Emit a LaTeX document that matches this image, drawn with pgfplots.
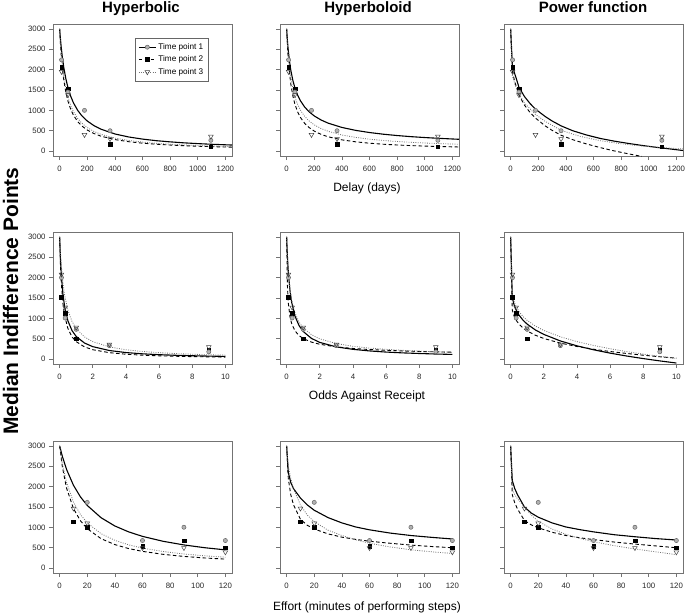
\documentclass[border=0pt]{standalone}
\usepackage{fontspec}
\setmainfont{Liberation Sans}
\usepackage{pgfplots}
\pgfplotsset{compat=1.18}
\pgfplotsset{
 panel/.style={scale only axis, width=179pt, height=132pt, anchor=north west,
   ymin=-120, ymax=3120, ytick={0,500,...,3000},
   axis line style={draw=black!55, line width=0.6pt},
   every tick/.style={draw=black!55, line width=0.6pt},
   tick align=outside, tick pos=left, major tick length=4pt,
   tick label style={font=\fontsize{7.8}{9}\selectfont, text=black!85},
   xticklabel style={yshift=-2.5pt},
   /pgf/number format/assume math mode=true,
   /pgf/number format/1000 sep={},
   clip=true},
 nolab/.style={yticklabels={}},
 delay/.style={xmin=-48, xmax=1248, xtick={0,200,...,1200}},
 odds/.style={xmin=-0.4, xmax=10.4, xtick={0,2,...,10}},
 effort/.style={xmin=-4.8, xmax=124.8, xtick={0,20,...,120}},
 tpone/.style={black, line width=1.1pt, forget plot},
 tptwo/.style={black, line width=0.9pt, dash pattern=on 3.5pt off 2.5pt, forget plot},
 tpthree/.style={black!55, line width=0.8pt, dash pattern=on 0.9pt off 1.4pt, forget plot},
 mone/.style={only marks, forget plot, mark=*, mark size=2.1pt, mark options={solid, draw=black!60, fill=black!30, line width=0.5pt}},
 mtwo/.style={only marks, forget plot, mark=square*, mark size=1.8pt, mark options={solid, draw=black, fill=black}},
 mthree/.style={only marks, forget plot, mark=triangle, mark size=2.7pt, mark options={solid, draw=black!75, fill=white, rotate=180, line width=0.5pt}},
}
\begin{document}
\begin{tikzpicture}
\path[use as bounding box] (0,0) rectangle (685pt,-615pt);
% titles and labels
\node[anchor=base, font=\bfseries\fontsize{15}{17}\selectfont] at (141pt,-12.7pt) {Hyperbolic};
\node[anchor=base, font=\bfseries\fontsize{15}{17}\selectfont] at (368pt,-12.7pt) {Hyperboloid};
\node[anchor=base, font=\bfseries\fontsize{15}{17}\selectfont] at (593pt,-12.7pt) {Power function};
\node[anchor=base, font=\fontsize{12}{14}\selectfont] at (367pt,-191.3pt) {Delay (days)};
\node[anchor=base, font=\fontsize{12}{14}\selectfont] at (367pt,-399.3pt) {Odds Against Receipt};
\node[anchor=base, font=\fontsize{12}{14}\selectfont] at (367pt,-610.6pt) {Effort (minutes of performing steps)};
\node[rotate=90, anchor=base, font=\bfseries\fontsize{21}{23}\selectfont] at (18pt,-301pt) {Median Indifference Points};

% ---------------- Row 1: Delay ----------------
\begin{axis}[panel, delay, at={(53pt,-24pt)},
  legend style={at={(0.458,0.896)}, anchor=north west, draw=black!60, line width=0.5pt,
    font=\fontsize{8.2}{9.5}\selectfont, inner xsep=3pt, inner ysep=3.5pt, row sep=1pt},
  legend cell align=left]
\addlegendimage{black, line width=1.1pt, mark=*, mark size=2.1pt, mark options={solid, draw=black!60, fill=black!30, line width=0.5pt}}
\addlegendimage{black, line width=0.9pt, dash pattern=on 3.5pt off 2.5pt, mark=square*, mark size=1.8pt, mark options={solid, fill=black}}
\addlegendimage{black!55, line width=0.8pt, dash pattern=on 0.9pt off 1.4pt, mark=triangle, mark size=2.7pt, mark options={solid, draw=black!75, fill=white, rotate=180, line width=0.5pt}}
\legend{Time point 1, Time point 2, Time point 3}
\addplot[tpone] coordinates {(0,3000)(5,2787)(10,2602)(20,2297)(30,2056)(45,1777)(60,1564)(80,1349)(100,1186)(130,1004)(160,870)(200,739)(250,622)(300,537)(400,421)(500,347)(600,295)(700,256)(800,227)(900,203)(1000,184)(1100,168)(1248,149)};
\addplot[tptwo] coordinates {(0,3000)(5,2679)(10,2419)(20,2027)(30,1744)(45,1442)(60,1230)(80,1027)(100,882)(130,728)(160,620)(200,517)(250,429)(300,366)(400,283)(500,231)(600,195)(700,169)(800,149)(900,133)(1000,120)(1100,109)(1248,97)};
\addplot[tpthree] coordinates {(0,3000)(5,2715)(10,2479)(20,2113)(30,1840)(45,1542)(60,1327)(80,1119)(100,968)(130,804)(160,688)(200,577)(250,480)(300,411)(400,319)(500,261)(600,221)(700,191)(800,169)(900,151)(1000,136)(1100,124)(1248,110)};
\addplot[mtwo] coordinates {(14,2060)(60,1530)(365,165)(1095,105)};
\addplot[mone] coordinates {(14,2240)(60,1450)(180,1000)(365,500)(1095,265)};
\addplot[mthree] coordinates {(14,1950)(60,1380)(180,400)(365,300)(1095,360)};
\end{axis}

\begin{axis}[panel, delay, nolab, at={(280pt,-24pt)}]
\addplot[tpone] coordinates {(0,3000)(5,2743)(10,2536)(20,2221)(30,1989)(45,1736)(60,1552)(80,1371)(100,1235)(130,1085)(160,974)(200,863)(250,763)(300,687)(400,581)(500,509)(600,456)(700,415)(800,382)(900,355)(1000,333)(1100,314)(1248,290)};
\addplot[tptwo] coordinates {(0,3000)(5,2634)(10,2350)(20,1938)(30,1651)(45,1355)(60,1151)(80,961)(100,826)(130,684)(160,585)(200,491)(250,410)(300,352)(400,276)(500,228)(600,194)(700,169)(800,150)(900,135)(1000,123)(1100,113)(1248,101)};
\addplot[tpthree] coordinates {(0,3000)(5,2687)(10,2438)(20,2070)(30,1807)(45,1528)(60,1330)(80,1141)(100,1003)(130,855)(160,748)(200,645)(250,553)(300,487)(400,395)(500,336)(600,293)(700,261)(800,236)(900,216)(1000,199)(1100,185)(1248,168)};
\addplot[mtwo] coordinates {(14,2060)(60,1530)(365,165)(1095,105)};
\addplot[mone] coordinates {(14,2240)(60,1450)(180,1000)(365,500)(1095,265)};
\addplot[mthree] coordinates {(14,1950)(60,1380)(180,400)(365,300)(1095,360)};
\end{axis}

\begin{axis}[panel, delay, nolab, at={(504pt,-24pt)}]
\addplot[tpone] coordinates {(0,3000)(12.5,2100)(25,1950)(40,1790)(60,1570)(100,1340)(140,1170)(180,1030)(250,850)(300,740)(365,620)(450,500)(550,395)(650,310)(750,245)(850,190)(950,140)(1050,95)(1150,55)(1248,15)};
\addplot[tptwo] coordinates {(0,3000)(12.5,1950)(30,1700)(60,1380)(100,1130)(140,950)(180,810)(250,620)(300,510)(365,390)(450,280)(550,175)(650,85)(750,5)(850,-65)(950,-130)};
\addplot[tpthree] coordinates {(0,3000)(12.5,1850)(30,1650)(60,1400)(100,1180)(180,900)(250,730)(365,510)(500,365)(650,255)(800,180)(950,125)(1100,85)(1248,55)};
\addplot[mtwo] coordinates {(14,2060)(60,1530)(365,165)(1095,105)};
\addplot[mone] coordinates {(14,2240)(60,1450)(180,1000)(365,500)(1095,265)};
\addplot[mthree] coordinates {(14,1950)(60,1380)(180,400)(365,300)(1095,360)};
\end{axis}

% ---------------- Row 2: Odds ----------------
\begin{axis}[panel, odds, at={(53pt,-232pt)}]
\addplot[tpone] coordinates {(0,3000)(0.05,2459)(0.1,2083)(0.2,1596)(0.3,1293)(0.5,938)(0.75,698)(1,556)(1.5,395)(2,306)(3,211)(4,161)(5,130)(6,109)(7,94)(8,83)(9,74)(10,67)};
\addplot[tptwo] coordinates {(0,3000)(0.05,2308)(0.1,1875)(0.2,1364)(0.3,1071)(0.5,750)(0.75,545)(1,429)(1.5,300)(2,231)(3,158)(4,120)(5,97)(6,81)(7,70)(8,61)(9,55)(10,49)};
\addplot[tpthree] coordinates {(0,3000)(0.05,2609)(0.1,2308)(0.2,1875)(0.3,1579)(0.5,1200)(0.75,923)(1,750)(1.5,545)(2,429)(3,300)(4,231)(5,188)(6,158)(7,136)(8,120)(9,107)(10,97)};
\addplot[mtwo] coordinates {(0.111,1520)(0.333,1120)(1,500)(9,220)};
\addplot[mone] coordinates {(0.111,2000)(0.333,1010)(1,730)(3,330)(9,180)};
\addplot[mthree] coordinates {(0.111,2080)(0.333,1270)(1,775)(3,360)(9,300)};
\end{axis}

\begin{axis}[panel, odds, nolab, at={(280pt,-232pt)}]
\addplot[tpone] coordinates {(0,3000)(0.05,2493)(0.1,2143)(0.2,1688)(0.3,1402)(0.5,1060)(0.75,823)(1,678)(1.5,508)(2,410)(3,300)(4,240)(5,201)(6,173)(7,153)(8,138)(9,125)(10,115)};
\addplot[tptwo] coordinates {(0,3000)(0.05,1771)(0.1,1386)(0.2,1045)(0.3,876)(0.5,696)(0.75,577)(1,505)(1.5,417)(2,364)(3,300)(4,262)(5,235)(6,216)(7,200)(8,188)(9,178)(10,169)};
\addplot[tpthree] coordinates {(0,3000)(0.05,2497)(0.1,2159)(0.2,1727)(0.3,1459)(0.5,1137)(0.75,910)(1,768)(1.5,599)(2,498)(3,382)(4,315)(5,271)(6,240)(7,216)(8,197)(9,181)(10,169)};
\addplot[mtwo] coordinates {(0.111,1520)(0.333,1120)(1,500)(9,220)};
\addplot[mone] coordinates {(0.111,2000)(0.333,1010)(1,730)(3,330)(9,180)};
\addplot[mthree] coordinates {(0.111,2080)(0.333,1270)(1,775)(3,360)(9,300)};
\end{axis}

\begin{axis}[panel, odds, nolab, at={(504pt,-232pt)}]
\addplot[tpone] coordinates {(0,3000)(0.1,1518)(0.2,1344)(0.3,1233)(0.5,1083)(0.75,954)(1,858)(1.5,714)(2,607)(3,446)(4,326)(5,229)(6,147)(7,76)(8,13)(9,-44)(10,-96)};
\addplot[tptwo] coordinates {(0,3000)(0.1,1207)(0.2,1065)(0.3,976)(0.5,860)(0.75,762)(1,690)(1.5,585)(2,507)(3,393)(4,310)(5,243)(6,187)(7,139)(8,96)(9,58)(10,24)};
\addplot[tpthree] coordinates {(0,3000)(0.1,1591)(0.2,1423)(0.3,1315)(0.5,1169)(0.75,1044)(1,950)(1.5,810)(2,705)(3,548)(4,430)(5,335)(6,255)(7,185)(8,123)(9,67)(10,16)};
\addplot[mtwo] coordinates {(0.111,1520)(0.333,1120)(1,500)(9,220)};
\addplot[mone] coordinates {(0.111,2000)(0.333,1010)(1,730)(3,330)(9,180)};
\addplot[mthree] coordinates {(0.111,2080)(0.333,1270)(1,775)(3,360)(9,300)};
\end{axis}

% ---------------- Row 3: Effort ----------------
\begin{axis}[panel, effort, at={(53pt,-441pt)}]
\addplot[tpone] coordinates {(0,3000)(2,2740)(5,2424)(10,2034)(15,1752)(20,1538)(30,1237)(40,1034)(50,889)(60,779)(75,658)(90,569)(105,501)(120,448)};
\addplot[tptwo] coordinates {(0,3000)(2,2479)(5,1967)(10,1463)(15,1165)(20,968)(30,723)(40,577)(50,480)(60,411)(75,338)(90,287)(105,249)(120,221)};
\addplot[tpthree] coordinates {(0,3000)(2,2564)(5,2105)(10,1622)(15,1319)(20,1111)(30,845)(40,682)(50,571)(60,492)(75,407)(90,347)(105,302)(120,268)};
\addplot[mtwo] coordinates {(10,1141)(20,1003)(60,538)(90,677)(120,497)};
\addplot[mone] coordinates {(20,1614)(60,677)(90,1003)(120,677)};
\addplot[mthree] coordinates {(10,1467)(20,1100)(60,497)(90,497)(120,391)};
\end{axis}

\begin{axis}[panel, effort, nolab, at={(280pt,-441pt)}]
\addplot[tpone] coordinates {(0,3000)(1.2,2350)(3,2100)(5,1950)(10,1720)(15,1550)(20,1420)(30,1240)(40,1110)(50,1010)(60,940)(75,860)(90,800)(105,755)(120,715)};
\addplot[tptwo] coordinates {(0,3000)(1.2,2200)(3,1800)(5,1550)(10,1200)(15,1050)(20,960)(30,840)(40,760)(50,705)(60,660)(75,610)(90,565)(105,530)(120,500)};
\addplot[tpthree] coordinates {(0,3000)(1.2,2500)(3,2200)(5,1950)(10,1550)(15,1300)(20,1140)(30,930)(40,800)(50,695)(60,610)(75,520)(90,450)(105,400)(120,360)};
\addplot[mtwo] coordinates {(10,1141)(20,1003)(60,538)(90,677)(120,497)};
\addplot[mone] coordinates {(20,1614)(60,677)(90,1003)(120,677)};
\addplot[mthree] coordinates {(10,1467)(20,1100)(60,497)(90,497)(120,391)};
\end{axis}

\begin{axis}[panel, effort, nolab, at={(504pt,-441pt)}]
\addplot[tpone] coordinates {(0,3000)(1.2,2150)(3,1950)(5,1800)(10,1500)(15,1350)(20,1250)(30,1110)(40,1010)(50,945)(60,890)(75,820)(90,770)(105,725)(120,690)};
\addplot[tptwo] coordinates {(0,3000)(1.2,1800)(3,1600)(5,1450)(10,1170)(15,1060)(20,990)(30,880)(40,800)(50,745)(60,700)(75,640)(90,590)(105,545)(120,500)};
\addplot[tpthree] coordinates {(0,3000)(1.2,1950)(3,1800)(5,1700)(10,1500)(15,1300)(20,1150)(30,960)(40,830)(50,730)(60,650)(75,550)(90,470)(105,400)(120,330)};
\addplot[mtwo] coordinates {(10,1141)(20,1003)(60,538)(90,677)(120,497)};
\addplot[mone] coordinates {(20,1614)(60,677)(90,1003)(120,677)};
\addplot[mthree] coordinates {(10,1467)(20,1100)(60,497)(90,497)(120,391)};
\end{axis}
\end{tikzpicture}
\end{document}
